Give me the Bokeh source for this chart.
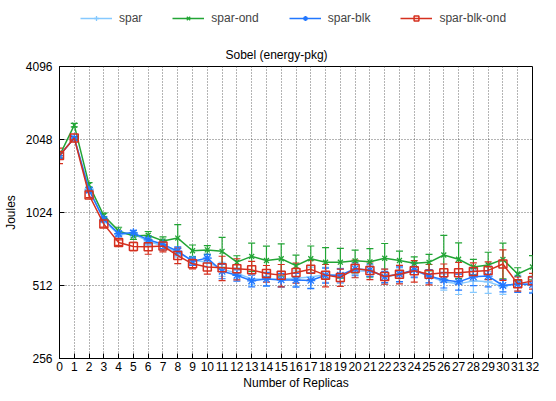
from bokeh.plotting import figure
from bokeh.layouts import column
from bokeh.models import (ColumnDataSource, Range1d, FixedTicker,
                          Whisker, TeeHead, Legend, LegendItem, PrintfTickFormatter)
from bokeh.embed import file_html
from bokeh.resources import INLINE

# ---------------- data ----------------
replicas = list(range(33))
x_ticks = list(range(33))
y_ticks = [256, 512, 1024, 2048, 4096]

series_names = ["spar", "spar-ond", "spar-blk", "spar-blk-ond"]

spar = [1758, 2077, 1280, 950, 830, 835, 780, 745, 700, 650, 640, 598, 575, 545, 543, 545,
        548, 555, 568, 562, 589, 586, 560, 565, 590, 560, 530, 520, 535, 530, 506, 525, 520]
spar_err = [50, 30, 30, 20, 20, 25, 30, 30, 30, 25, 30, 40, 30, 30, 35, 40,
            40, 55, 40, 40, 35, 35, 40, 40, 40, 35, 40, 50, 55, 55, 35, 40, 40]

spar_ond = [1758, 2347, 1331, 993, 860, 819, 825, 782, 803, 712, 718, 708, 639, 675, 649, 660,
            618, 660, 639, 639, 647, 641, 663, 649, 632, 638, 684, 657, 611, 622, 656, 571, 610]
spar_ond_err = [40, 40, 30, 25, 30, 25, 30, 30, 110, 40, 30, 100, 40, 90, 95, 100,
                65, 85, 95, 90, 70, 85, 100, 60, 40, 50, 140, 110, 45, 80, 110, 35, 70]

spar_blk = [1758, 2077, 1266, 960, 838, 844, 790, 757, 709, 645, 664, 586, 564, 535, 545, 540,
            539, 537, 564, 565, 600, 593, 556, 571, 594, 560, 540, 530, 556, 560, 512, 519, 516]
spar_blk_err = [50, 30, 30, 20, 20, 20, 30, 30, 30, 25, 25, 40, 30, 30, 35, 35,
                35, 40, 40, 35, 35, 35, 30, 40, 40, 35, 40, 40, 45, 55, 30, 40, 40]

spar_blk_ond = [1758, 2077, 1209, 917, 770, 742, 739, 745, 680, 629, 610, 606, 600, 594, 574, 565,
                579, 597, 565, 553, 601, 591, 558, 570, 589, 570, 578, 578, 585, 591, 628, 520, 535]
spar_blk_ond_err = [130, 30, 30, 25, 20, 30, 50, 40, 50, 30, 40, 70, 60, 50, 45, 60,
                    55, 55, 60, 45, 50, 50, 40, 50, 60, 55, 50, 60, 50, 50, 90, 35, 40]

series_values = [spar, spar_ond, spar_blk, spar_blk_ond]
series_errors = [spar_err, spar_ond_err, spar_blk_err, spar_blk_ond_err]
colors = ["#86c9ff", "#22a535", "#2277ff", "#d5301f"]
markers = ["cross", "x", "asterisk", "square"]
marker_sizes = [9, 7, 9, 8]

FONT = "Liberation Sans"

# ---------------- main chart ----------------
p = figure(width=540, height=357, title="Sobel (energy-pkg)",
           x_range=Range1d(0, 32), y_range=Range1d(256, 4096),
           y_axis_type="log", output_backend="svg", toolbar_location=None,
           min_border_left=49, min_border_right=8, min_border_top=30, min_border_bottom=35)

p.title.align = "left"
p.title.offset = 166
p.title.text_font = FONT
p.title.text_font_size = "12px"
p.title.text_font_style = "normal"
p.title.text_color = "black"

p.outline_line_color = "black"
p.outline_line_width = 1
p.background_fill_color = "white"
p.border_fill_color = "white"

p.xaxis.ticker = FixedTicker(ticks=x_ticks)
p.yaxis.ticker = FixedTicker(ticks=y_ticks)
p.yaxis.formatter = PrintfTickFormatter(format="%d")
for ax in (p.xaxis[0], p.yaxis[0]):
    ax.major_tick_in = 5
    ax.major_tick_out = 0
    ax.minor_tick_line_color = None
    ax.axis_line_color = "black"
    ax.major_tick_line_color = "black"
    ax.major_label_text_font = FONT
    ax.major_label_text_font_size = "12px"
    ax.major_label_text_color = "black"
    ax.axis_label_text_font = FONT
    ax.axis_label_text_font_size = "12px"
    ax.axis_label_text_font_style = "normal"
    ax.axis_label_text_color = "black"
p.xaxis.axis_label = "Number of Replicas"
p.yaxis.axis_label = "Joules"
p.xaxis.major_label_standoff = 3
p.xaxis.axis_label_standoff = 2
p.yaxis.major_label_standoff = 7
p.yaxis.axis_label_standoff = 5

p.xgrid.ticker = FixedTicker(ticks=x_ticks)
p.ygrid.ticker = FixedTicker(ticks=y_ticks)
for g in (p.xgrid[0], p.ygrid[0]):
    g.grid_line_color = "#444444"
    g.grid_line_dash = "1 2"
    g.grid_line_width = 1
    g.grid_line_alpha = 0.8

sources = []
for vals, errs, c, m, ms in zip(series_values, series_errors, colors, markers, marker_sizes):
    src = ColumnDataSource(data=dict(
        x=replicas, y=vals,
        upper=[v + e for v, e in zip(vals, errs)],
        lower=[v - e for v, e in zip(vals, errs)]))
    sources.append(src)
    w = Whisker(source=src, base="x", upper="upper", lower="lower",
                line_color=c, line_width=1.2,
                upper_head=TeeHead(size=7, line_color=c, line_width=1.2),
                lower_head=TeeHead(size=7, line_color=c, line_width=1.2))
    p.add_layout(w)
    p.line("x", "y", source=src, line_color=c, line_width=1.5)
    if m == "square":
        p.scatter("x", "y", source=src, marker=m, size=ms, line_color=c,
                  fill_color=None, line_width=1.5)
    else:
        p.scatter("x", "y", source=src, marker=m, size=ms, line_color=c, line_width=1.3)

# ---------------- legend strip (series drawn out of view, only the key shows) ----------------
lg = figure(width=540, height=36, x_range=Range1d(100, 101), y_range=Range1d(0, 1),
            output_backend="svg", toolbar_location=None, min_border=0)
lg.axis.visible = False
lg.grid.visible = False
lg.outline_line_color = None
lg.background_fill_color = "white"
lg.border_fill_color = "white"

items = []
for name, src, c, m, ms in zip(series_names, sources, colors, markers, marker_sizes):
    lr = lg.line("x", "y", source=src, line_color=c, line_width=1.5)
    if m == "square":
        sr = lg.scatter("x", "y", source=src, marker=m, size=ms, line_color=c,
                        fill_color=None, line_width=1.5)
    else:
        sr = lg.scatter("x", "y", source=src, marker=m, size=ms, line_color=c, line_width=1.3)
    items.append(LegendItem(label=name, renderers=[lr, sr]))

legend = Legend(items=items, orientation="horizontal", location=(21, 11),
                border_line_color=None, background_fill_alpha=0,
                label_text_font=FONT, label_text_font_size="12px",
                glyph_width=32, glyph_height=12, label_standoff=7, spacing=30,
                padding=2, margin=0)
lg.add_layout(legend)

layout = column(lg, p, spacing=0)
open("out.html", "w").write(file_html(layout, INLINE))
